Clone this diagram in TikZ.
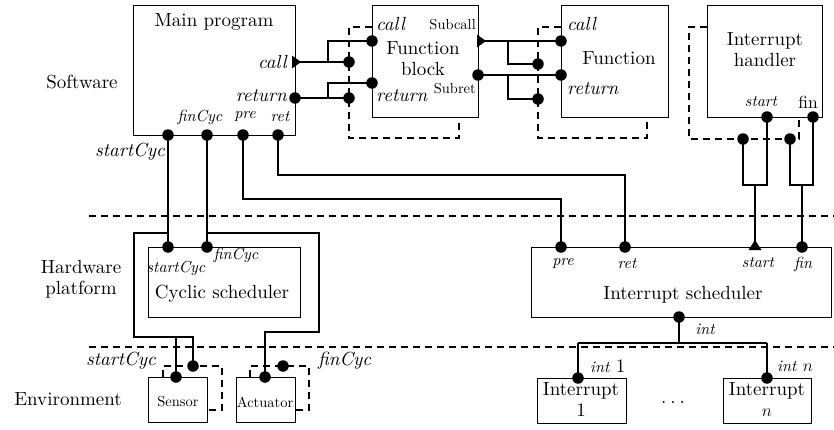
\documentclass[tikz,border=0pt]{standalone}
\usepackage{fontspec}
\setmainfont{lmroman10-regular.otf}[ItalicFont=lmroman10-italic.otf, BoldFont=lmroman10-bold.otf]
\usetikzlibrary{calc}
\tikzset{
 box/.style={draw, line width=1.2pt, anchor=north west, inner sep=0pt},
 dot/.style={circle, fill, inner sep=0pt, minimum size=11.5pt},
 wire/.style={line width=1.2pt},
 dwire/.style={line width=1.2pt, dash pattern=on 7pt off 5pt},
 txt/.style={font=\fontsize{19}{21}\selectfont, inner sep=0pt, align=center},
 itx/.style={font=\fontsize{19}{21}\selectfont\itshape, inner sep=0pt},
 sit/.style={font=\fontsize{16}{18}\selectfont\itshape, inner sep=0pt},
 sup/.style={font=\fontsize{14.5}{16}\selectfont, inner sep=0pt},
}
\begin{document}
\begin{tikzpicture}[x=1pt,y=-1pt]
\useasboundingbox (0,0) rectangle (834,429);
% ---------- boxes
\node[box, minimum width=162pt, minimum height=130pt] (main) at (133,5) {};
\node[box, minimum width=106pt, minimum height=112pt] (fb) at (372,5) {};
\node[box, minimum width=107pt, minimum height=112pt] (fn) at (561,5) {};
\node[box, minimum width=115pt, minimum height=112pt] (ih) at (707,5) {};
\node[box, minimum width=152pt, minimum height=70pt] (cs) at (148,247) {};
\node[box, minimum width=300pt, minimum height=70pt] (is) at (531,247) {};
\node[box, minimum width=59pt, minimum height=45pt] (sen) at (148,377) {};
\node[box, minimum width=59pt, minimum height=45pt] (act) at (236,377) {};
\node[box, minimum width=89pt, minimum height=45pt] (ione) at (537,378) {};
\node[box, minimum width=88pt, minimum height=45pt] (inn) at (723,378) {};
% ---------- separators
\draw[dwire] (89,216) -- (834,216);
\draw[dwire] (89,347) -- (834,347);
% ---------- dashed outlines
\draw[dwire] (372,27) -- (349,27) -- (349,138) -- (459,138) -- (459,117);
\draw[dwire] (561,27) -- (538,27) -- (538,138) -- (647,138) -- (647,117);
\draw[dwire] (707,27) -- (689,27) -- (689,139) -- (799,139) -- (799,117);
\draw[dwire] (163,377) -- (163,366) -- (222,366) -- (222,410) -- (207,410);
\draw[dwire] (250,377) -- (250,366) -- (309,366) -- (309,410) -- (295,410);
% ---------- port coordinates
\coordinate (mCall) at (295,62);
\coordinate (mRet) at (295,98);
\coordinate (mStart) at (168,135);
\coordinate (mFin) at (207,135);
\coordinate (mPre) at (243,135);
\coordinate (mRetP) at (278,135);
\coordinate (fbdC) at (349,62);
\coordinate (fbdR) at (349,98);
\coordinate (fbC) at (372,41);
\coordinate (fbR) at (372,83);
\coordinate (fbSC) at (478,41);
\coordinate (fbSR) at (478,75);
\coordinate (fndC) at (538,64);
\coordinate (fndR) at (538,99);
\coordinate (fnC) at (561,41);
\coordinate (fnR) at (561,75);
\coordinate (ihS) at (767,117);
\coordinate (ihF) at (813,117);
\coordinate (ihdS) at (743,139);
\coordinate (ihdF) at (790,139);
\coordinate (isPre) at (561,247);
\coordinate (isRet) at (625,247);
\coordinate (isStart) at (755,247);
\coordinate (isFin) at (802,247);
\coordinate (isInt) at (679,317);
\coordinate (csStart) at (168,247);
\coordinate (csFin) at (207,247);
\coordinate (senP) at (176,377);
\coordinate (senD) at (193,366);
\coordinate (actP) at (265,377);
\coordinate (actD) at (283,366);
\coordinate (ioneP) at (578,378);
\coordinate (innP) at (767,378);
% junctions
\coordinate (jc) at (328,62);
\coordinate (jr) at (328,98);
\coordinate (j2c) at (508,41);
\coordinate (j2r) at (508,75);
\coordinate (jS1) at (743,185);
\coordinate (jS2) at (767,185);
\coordinate (jSm) at (755,185);
\coordinate (jF1) at (790,185);
\coordinate (jF2) at (813,185);
\coordinate (jFm) at (802,185);
\coordinate (jp) at (400,199);
\coordinate (jrt) at (400,175);
\coordinate (ls1) at (168,233);
\coordinate (ls2) at (134,233);
\coordinate (ls3) at (134,337);
\coordinate (ls4) at (176,337);
\coordinate (rs1) at (207,233);
\coordinate (rs2) at (319,233);
\coordinate (rs3) at (319,332);
\coordinate (jint) at (679,343);
\coordinate (ji1) at (578,343);
\coordinate (jin) at (767,343);
% ---------- wires
\draw[wire] (mCall) -- (fbdC);
\draw[wire] (jc) |- (fbC);
\draw[wire] (mRet) -- (fbdR);
\draw[wire] (jr) |- (fbR);
\draw[wire] (fbSC) -- (fnC);
\draw[wire] (j2c) |- (fndC);
\draw[wire] (fbSR) -- (fnR);
\draw[wire] (j2r) |- (fndR);
\draw[wire] (ihdS) -- (jS1) -- (jS2) -- (ihS);
\draw[wire] (jSm) -- (isStart);
\draw[wire] (ihdF) -- (jF1) -- (jF2) -- (ihF);
\draw[wire] (jFm) -- (isFin);
\draw[wire] (mPre) |- (jp) -| (isPre);
\draw[wire] (mRetP) |- (jrt) -| (isRet);
\draw[wire] (mStart) -- (csStart);
\draw[wire] (mFin) -- (csFin);
\draw[wire] (ls1) -- (ls2) -- (ls3) -| (senD);
\draw[wire] (ls4) -- (senP);
\draw[wire] (rs1) -- (rs2) -- (rs3) -| (actP);
\draw[wire] (isInt) -- (jint);
\draw[wire] (ji1) -- (jin);
\draw[wire] (ji1) -- (ioneP);
\draw[wire] (jin) -- (innP);
% ---------- dots
\foreach \p in {mRet,mStart,mFin,mPre,mRetP,fbdC,fbdR,fbC,fbR,fbSR,fndC,fndR,fnC,fnR,
  ihS,ihF,ihdS,ihdF,isPre,isRet,isFin,isInt,csStart,csFin,senP,senD,actP,actD,ioneP,innP}
  \node[dot] at (\p) {};
% ---------- triangles
\fill (mCall) ++(-3,-6.5) -- ++(9,6.5) -- ++(-9,6.5) -- cycle;
\fill (fbSC) ++(-1,-6.5) -- ++(9,6.5) -- ++(-9,6.5) -- cycle;
\fill (isStart) ++(-6.5,3) -- ++(6.5,-10) -- ++(6.5,10) -- cycle;
% ---------- texts
\node[txt] (tMain) at (214,22) {Main program};
\node[itx, anchor=east] (tCall) at (287,62) {call};
\node[itx, anchor=east] (tRet) at (287,96) {return};
\node[sit] (tFinC) at (200,117) {finCyc};
\node[sit] (tPre) at (245,117) {pre};
\node[sit] (tRetp) at (280,117) {ret};
\node[itx, anchor=east] (tStartC) at (165,152) {startCyc};
\node[itx, anchor=west] (tfbCall) at (376,24) {call};
\node[sup, anchor=east] (tSubcall) at (476,25) {Subcall};
\node[txt] (tFB) at (423,59) {Function\\block};
\node[itx, anchor=west] (tfbRet) at (376,96) {return};
\node[sup, anchor=east] (tSubret) at (476,89) {Subret};
\node[itx, anchor=west] (tfnCall) at (567,24) {call};
\node[txt] (tFn) at (619,58) {Function};
\node[itx, anchor=west] (tfnRet) at (567,89) {return};
\node[txt] (tIH) at (765,50) {Interrupt\\handler};
\node[sit] (tihS) at (761,102) {start};
\node[font=\fontsize{17.5}{19}\selectfont, inner sep=0pt] (tihF) at (808,102) {fin};
\node[sit] (tcsS) at (176,268) {startCyc};
\node[sit] (tcsF) at (236,255) {finCyc};
\node[txt] (tCS) at (222,294) {Cyclic scheduler};
\node[sit] (tisPre) at (563,264) {pre};
\node[sit] (tisRet) at (627,264) {ret};
\node[sit] (tisStart) at (758,263) {start};
\node[sit] (tisFin) at (803,264) {fin};
\node[txt] (tIS) at (683,295) {Interrupt scheduler};
\node[sit] (tInt) at (705,329) {int};
\node[sup] (tSen) at (178,402) {Sensor};
\node[sup] (tAct) at (265,402) {Actuator};
\node[itx, anchor=east] (teS) at (156,361) {startCyc};
\node[itx, anchor=west] (teF) at (318,361) {finCyc};
\node[anchor=west, inner sep=0pt] (tInt1) at (590,366) {\fontsize{16}{18}\selectfont\itshape int\/ \fontsize{19}{21}\selectfont\upshape 1};
\node[anchor=west, inner sep=0pt] (tIntn) at (777,366) {\fontsize{16}{18}\selectfont\itshape int\/ \fontsize{19}{21}\selectfont $n$};
\node[txt] (tI1) at (581,400) {Interrupt\\1};
\node[txt] (tIn) at (767,400) {Interrupt\\$n$};
\node[txt] (tdots) at (673,402) {.\kern4pt.\kern4pt.};
\node[txt] (tSW) at (82,82) {Software};
\node[txt] (tHW) at (81,279) {Hardware\\platform};
\node[txt] (tEnv) at (68,399) {Environment};
\end{tikzpicture}
\end{document}
